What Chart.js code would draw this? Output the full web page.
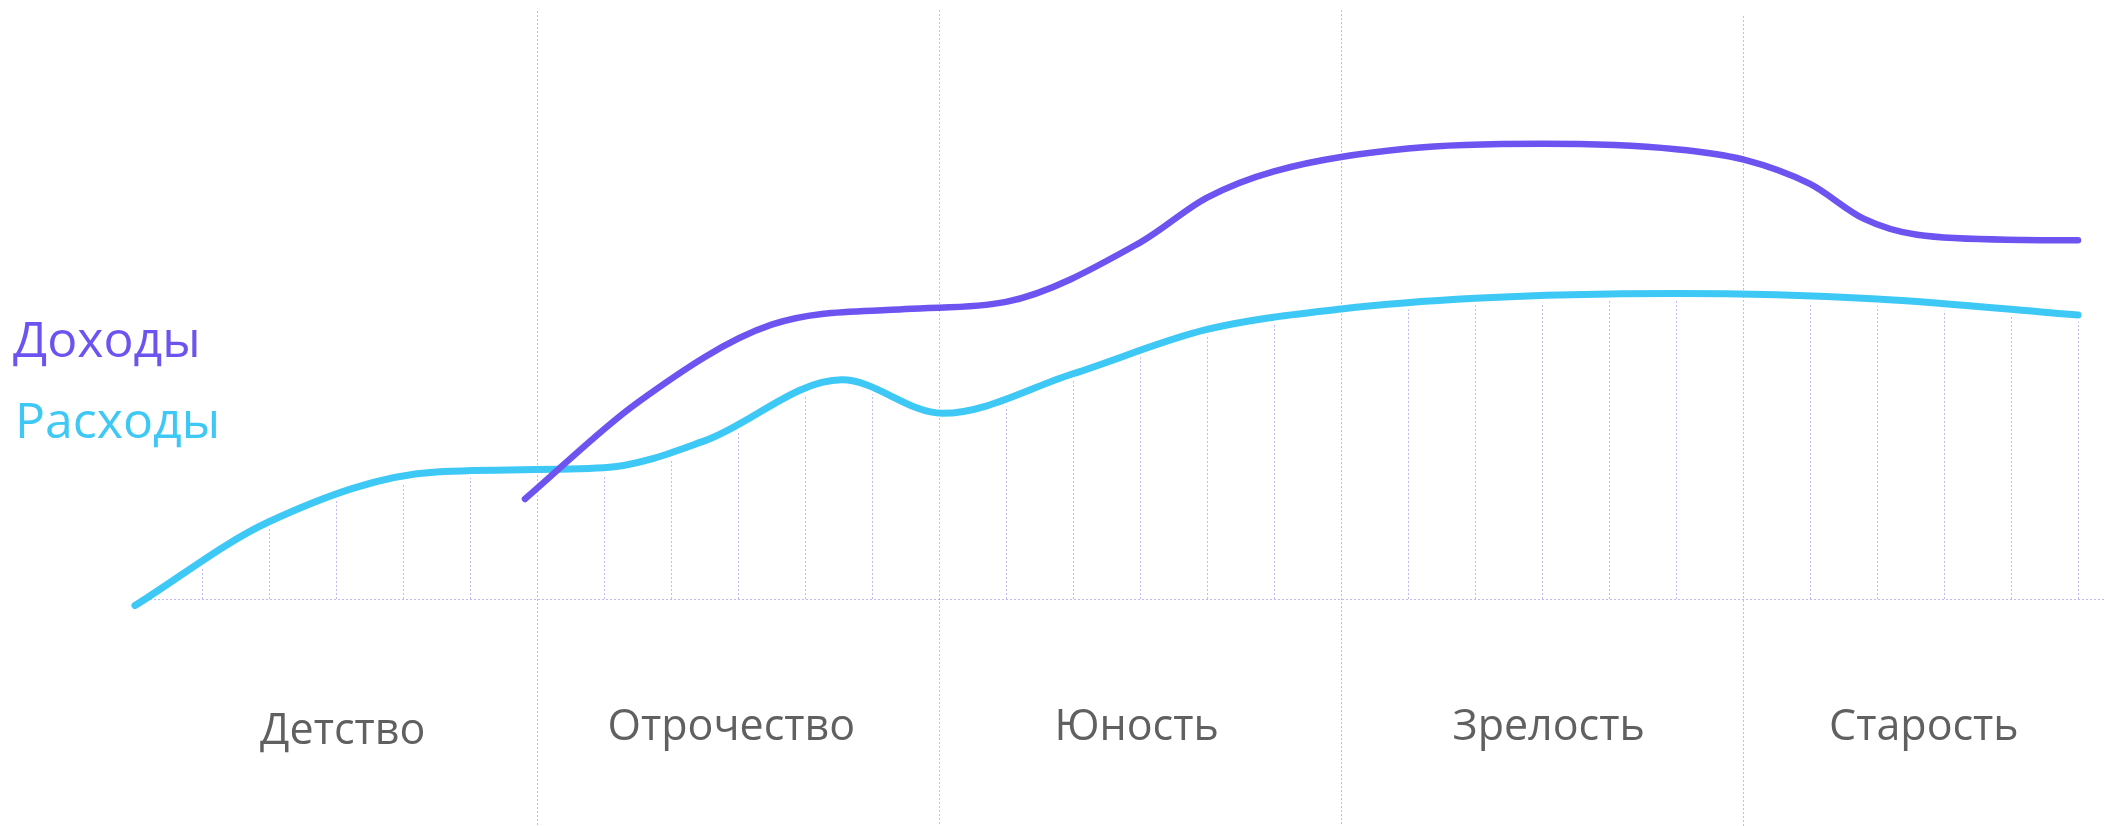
<!DOCTYPE html>
<html lang="ru">
<head>
<meta charset="UTF-8">
<title>Доходы и расходы по этапам жизни</title>
<script src="https://cdn.jsdelivr.net/npm/chart.js"></script>
<style>
  html, body { margin: 0; padding: 0; background: #fff; }
  .chart-wrap { position: relative; width: 2105px; height: 826px; }
</style>
</head>
<body>
<div class="chart-wrap"><canvas id="lifeChart"></canvas></div>
<script>
// life stages along the age axis (one grid step = one unit, 29 steps)
const stageLabels = ['Детство', 'Отрочество', 'Юность', 'Зрелость', 'Старость'];
const stageCenters = [3.1, 8.9, 14.95, 21.1, 26.7];
const stageBounds = [6, 12, 18, 24];
const gridSteps = 29;

// Расходы — key readings along the curve
const expenseX = [0, 2, 4.5, 7, 8.5, 10.55, 12.05, 14, 16, 18, 20, 23, 26, 29];
const expenseY = [-1.1, 12.9, 21.2, 21.9, 26.4, 36.6, 31.0, 37.6, 45.0, 48.4, 50.2, 51.0, 50.1, 47.4];

// Доходы — starts a bit before the end of childhood
const incomeX = [5.82, 7.5, 9.5, 11.5, 13, 15, 16, 17, 19, 21, 23, 24, 25, 25.8, 26.6, 28.2, 29];
const incomeY = [16.7, 32.8, 45.8, 48.4, 49.6, 59.5, 67.0, 71.4, 75.2, 76.0, 75.1, 73.4, 69.3, 63.5, 60.8, 59.95, 59.9];

const GRID = 'rgba(150, 140, 240, 0.6)';
const FONT = '"Open Sans", "Noto Sans", sans-serif';

const toPoints = (xs, ys) => xs.map((x, i) => ({ x: x, y: ys[i] }));

// y of the drawn curve at pixel px, from the bezier control points Chart.js computed
function curveYAt(points, px) {
    const bez = (a, b, c, d, t) => {
        const u = 1 - t;
        return u * u * u * a + 3 * u * u * t * b + 3 * u * t * t * c + t * t * t * d;
    };
    for (let i = 0; i < points.length - 1; i++) {
        const p0 = points[i], p1 = points[i + 1];
        if (px < p0.x || px > p1.x) continue;
        let lo = 0, hi = 1;
        for (let n = 0; n < 30; n++) {
            const mid = (lo + hi) / 2;
            if (bez(p0.x, p0.cp2x, p1.cp1x, p1.x, mid) < px) lo = mid; else hi = mid;
        }
        return bez(p0.y, p0.cp2y, p1.cp1y, p1.y, (lo + hi) / 2);
    }
    return null;
}

// dotted grid: baseline, drop lines under Расходы, full-height stage bounds
const gridPlugin = {
    id: 'lifeGrid',
    beforeDatasetsDraw(chart) {
        const { ctx, chartArea, scales } = chart;
        const base = scales.y.getPixelForValue(0);
        const points = chart.getDatasetMeta(1).data;
        const boundTops = [11, 10, 10, 16];

        ctx.save();
        ctx.strokeStyle = GRID;
        ctx.lineWidth = 1;
        ctx.setLineDash([2, 2]);

        ctx.beginPath();
        ctx.moveTo(chartArea.left + 15, base + 0.5);
        ctx.lineTo(chart.width, base + 0.5);
        ctx.stroke();

        for (let k = 1; k <= gridSteps; k++) {
            if (stageBounds.includes(k)) continue;
            const x = scales.x.getPixelForValue(k);
            const top = curveYAt(points, x);
            if (top === null) continue;
            const px = Math.round(x) + 0.5;
            ctx.beginPath();
            ctx.moveTo(px, base);
            ctx.lineTo(px, top + 7);
            ctx.stroke();
        }

        stageBounds.forEach((b, i) => {
            const px = Math.round(scales.x.getPixelForValue(b)) + 0.5;
            ctx.beginPath();
            ctx.moveTo(px, boundTops[i]);
            ctx.lineTo(px, chart.height);
            ctx.stroke();
        });
        ctx.restore();
    }
};

// stage names under the axis and the two series names on the left
const textPlugin = {
    id: 'lifeText',
    afterDraw(chart) {
        const { ctx, scales } = chart;
        ctx.save();
        ctx.font = '43px ' + FONT;
        ctx.fillStyle = '#606060';
        ctx.textAlign = 'center';
        ctx.textBaseline = 'alphabetic';
        stageLabels.forEach((s, i) => {
            const y = i === 0 ? 744 : 740;
            ctx.fillText(s, scales.x.getPixelForValue(stageCenters[i]), y);
        });

        ctx.font = '50px ' + FONT;
        ctx.textAlign = 'left';
        const legendY = [357, 438];
        chart.data.datasets.forEach((ds, i) => {
            ctx.fillStyle = ds.borderColor;
            ctx.fillText(ds.label, i === 0 ? 13 : 15, legendY[i]);
        });
        ctx.restore();
    }
};

new Chart(document.getElementById('lifeChart'), {
    type: 'line',
    data: {
        datasets: [
            {
                label: 'Доходы',
                data: toPoints(incomeX, incomeY),
                borderColor: '#6d54f1',
                borderWidth: 6.5
            },
            {
                label: 'Расходы',
                data: toPoints(expenseX, expenseY),
                borderColor: '#3ec8f5',
                borderWidth: 7
            }
        ]
    },
    options: {
        responsive: true,
        maintainAspectRatio: false,
        animation: false,
        layout: { padding: { left: 135, right: 0, top: 0, bottom: 227 } },
        elements: {
            point: { radius: 0, hoverRadius: 0 },
            line: { cubicInterpolationMode: 'monotone', borderCapStyle: 'round', borderJoinStyle: 'round', fill: false }
        },
        datasets: { line: { clip: false } },
        scales: {
            x: { type: 'linear', min: 0, max: 29.403, display: false },
            y: { min: 0, max: 100, display: false }
        },
        plugins: {
            legend: { display: false },
            tooltip: { enabled: false }
        }
    },
    plugins: [gridPlugin, textPlugin]
});
</script>
</body>
</html>
